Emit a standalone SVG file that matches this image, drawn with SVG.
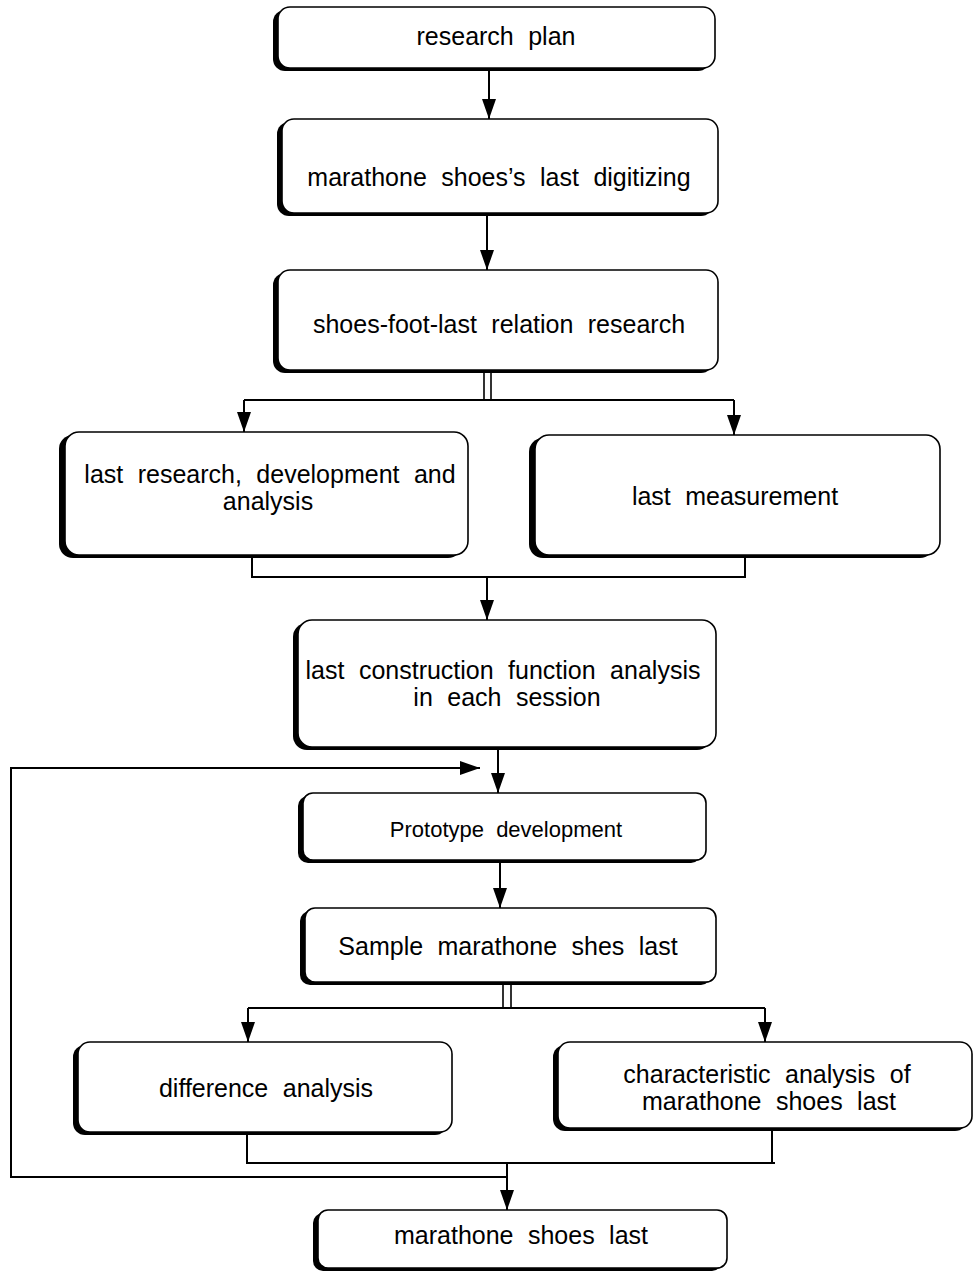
<svg xmlns="http://www.w3.org/2000/svg" width="974" height="1271" viewBox="0 0 974 1271">
<style>
.sh{fill:#000}
.bx{fill:#fff;stroke:#000;stroke-width:1.6}
.t{font-family:"Liberation Sans",Arial,sans-serif;font-size:25px;fill:#000;text-anchor:middle;word-spacing:7.5px}
.ts{font-size:22px;word-spacing:6px}
.ln{fill:none;stroke:#000;stroke-width:2}
.dl{fill:#fff;stroke:#000;stroke-width:1.6}
</style>
<defs>
<marker id="ah" viewBox="0 0 20 14" refX="20" refY="7" markerWidth="20" markerHeight="14" markerUnits="userSpaceOnUse" orient="auto">
<path d="M0,0 L20,7 L0,14 Z" fill="#000"/>
</marker>
</defs>

<g id="connectors">
<line class="ln" x1="489" y1="68" x2="489" y2="119" marker-end="url(#ah)"/>
<line class="ln" x1="487" y1="213" x2="487" y2="270" marker-end="url(#ah)"/>
<rect class="dl" x="484" y="370" width="7" height="30"/>
<path class="ln" d="M244,400 H734"/>
<line class="ln" x1="244" y1="400" x2="244" y2="432" marker-end="url(#ah)"/>
<line class="ln" x1="734" y1="400" x2="734" y2="435" marker-end="url(#ah)"/>
<path class="ln" d="M252,555 V577 H745 V555"/>
<line class="ln" x1="487" y1="577" x2="487" y2="620" marker-end="url(#ah)"/>
<line class="ln" x1="498" y1="747" x2="498" y2="793" marker-end="url(#ah)"/>
<path class="ln" d="M507,1177 H11 V768 H480" marker-end="url(#ah)"/>
<line class="ln" x1="500" y1="860" x2="500" y2="908" marker-end="url(#ah)"/>
<rect class="dl" x="503" y="982" width="8" height="26"/>
<path class="ln" d="M248,1008 H765"/>
<line class="ln" x1="248" y1="1008" x2="248" y2="1042" marker-end="url(#ah)"/>
<line class="ln" x1="765" y1="1008" x2="765" y2="1042" marker-end="url(#ah)"/>
<path class="ln" d="M247,1132 V1163 H775 M772,1128 V1163"/>
<line class="ln" x1="507" y1="1163" x2="507" y2="1210" marker-end="url(#ah)"/>
</g>

<g id="n1">
<rect class="sh" x="273" y="10" width="437" height="61" rx="12"/>
<rect class="bx" x="278" y="7" width="437" height="61" rx="12"/>
<text class="t" x="496" y="45">research plan</text>
</g>
<g id="n2">
<rect class="sh" x="277" y="122" width="436" height="94" rx="12"/>
<rect class="bx" x="282" y="119" width="436" height="94" rx="12"/>
<text class="t" x="499" y="186">marathone shoes’s last digitizing</text>
</g>
<g id="n3">
<rect class="sh" x="273" y="273" width="440" height="100" rx="12"/>
<rect class="bx" x="278" y="270" width="440" height="100" rx="12"/>
<text class="t" x="499" y="333">shoes-foot-last relation research</text>
</g>
<g id="n4">
<rect class="sh" x="59" y="435" width="403" height="123" rx="14"/>
<rect class="bx" x="65" y="432" width="403" height="123" rx="14"/>
<text class="t" x="270" y="483">last research, development and</text>
<text class="t" x="268" y="510">analysis</text>
</g>
<g id="n5">
<rect class="sh" x="529" y="438" width="405" height="120" rx="14"/>
<rect class="bx" x="535" y="435" width="405" height="120" rx="14"/>
<text class="t" x="735" y="505">last measurement</text>
</g>
<g id="n6">
<rect class="sh" x="293" y="623" width="418" height="127" rx="14"/>
<rect class="bx" x="298" y="620" width="418" height="127" rx="14"/>
<text class="t" x="503" y="679">last construction function analysis</text>
<text class="t" x="507" y="706">in each session</text>
</g>
<g id="n7">
<rect class="sh" x="298" y="796" width="403" height="67" rx="10"/>
<rect class="bx" x="303" y="793" width="403" height="67" rx="10"/>
<text class="t ts" x="506" y="837">Prototype development</text>
</g>
<g id="n8">
<rect class="sh" x="300" y="911" width="411" height="74" rx="10"/>
<rect class="bx" x="305" y="908" width="411" height="74" rx="10"/>
<text class="t" x="508" y="955">Sample marathone shes last</text>
</g>
<g id="n9">
<rect class="sh" x="73" y="1045" width="374" height="90" rx="12"/>
<rect class="bx" x="78" y="1042" width="374" height="90" rx="12"/>
<text class="t" x="266" y="1097">difference analysis</text>
</g>
<g id="n10">
<rect class="sh" x="553" y="1045" width="414" height="86" rx="12"/>
<rect class="bx" x="558" y="1042" width="414" height="86" rx="12"/>
<text class="t" x="767" y="1083">characteristic analysis of</text>
<text class="t" x="769" y="1110">marathone shoes last</text>
</g>
<g id="n11">
<rect class="sh" x="313" y="1213" width="409" height="58" rx="10"/>
<rect class="bx" x="318" y="1210" width="409" height="58" rx="10"/>
<text class="t" x="521" y="1244">marathone shoes last</text>
</g>
</svg>
